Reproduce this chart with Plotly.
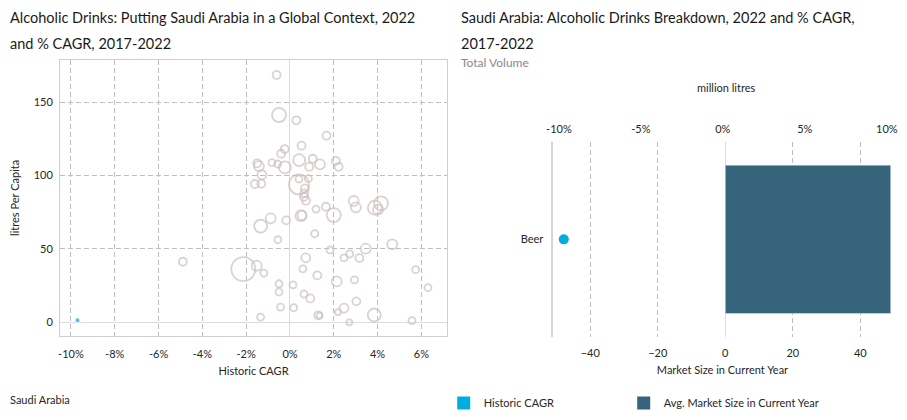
import plotly.graph_objects as go

# left chart: every country, historic CAGR (%) vs litres per capita, bubble = market size
cagr = [-0.61, -0.50, 0.29, 1.67, 0.53, -0.24, -0.40, 0.42, 1.04, 1.37,
        0.88, 2.10, 2.22, -0.23, -0.82, -0.56, -1.49, -1.42, -1.28, -1.60,
        -1.31, 0.41, 0.41, 0.84, 0.68, 0.65, 0.64, 0.73, 1.19, 1.64,
        2.00, 2.91, 3.01, 3.88, 4.16, 4.02, 0.50, 0.55, -0.88, -1.34,
        -0.17, -0.55, 1.13, 4.67, 3.46, 1.83, 3.17, 2.47, 2.73, 0.72,
        -2.13, -1.52, -1.19, 0.59, 1.25, 5.74, 6.30, 2.13, 2.95, -0.50,
        0.14, -0.50, 0.64, 0.93, 3.03, -0.43, 0.17, 2.47, 2.19, 1.29,
        1.35, 3.85, 2.71, 5.57, -1.34, -4.89]
per_capita = [168.6, 141.3, 137.7, 127.2, 120.4, 118.1, 114.9, 110.6, 111.5, 107.7,
              106.1, 110.0, 106.0, 105.6, 108.8, 107.9, 108.4, 106.5, 100.6, 94.3,
              94.5, 94.0, 97.7, 97.9, 91.3, 87.9, 85.6, 82.9, 77.2, 78.8,
              73.1, 82.7, 78.4, 78.1, 81.1, 76.8, 72.7, 72.9, 70.9, 65.6,
              69.5, 56.3, 60.4, 53.2, 50.2, 49.3, 43.8, 44.0, 46.6, 44.0,
              36.3, 38.6, 33.6, 36.5, 32.0, 35.9, 23.6, 27.9, 29.0, 26.3,
              25.6, 20.7, 19.3, 16.3, 14.3, 10.4, 10.0, 9.7, 7.0, 4.8,
              4.6, 5.0, 0.0, 1.1, 3.6, 41.3]
market_size = [1.0, 3.1, 1.0, 1.0, 1.0, 1.0, 1.0, 2.25, 1.0, 1.56,
               1.0, 1.0, 1.0, 2.25, 0.77, 0.77, 1.0, 1.56, 1.27, 1.0,
               1.0, 6.25, 0.77, 0.77, 1.0, 1.0, 1.0, 1.0, 0.77, 1.0,
               3.1, 1.56, 1.56, 3.1, 3.1, 1.56, 1.9, 1.27, 1.56, 2.64,
               1.0, 0.77, 0.77, 1.56, 1.56, 0.77, 1.0, 0.77, 0.77, 1.27,
               9.0, 1.56, 0.77, 0.77, 1.0, 0.77, 0.77, 1.56, 0.77, 0.77,
               0.77, 0.77, 0.77, 1.0, 1.0, 0.77, 0.77, 1.27, 0.56, 1.0,
               0.56, 2.64, 0.56, 0.77, 0.77, 1.0]

saudi_cagr = [-9.7]
saudi_per_capita = [1.4]
saudi_market_size = [0.4]

cagr_ticks = [-10, -8, -6, -4, -2, 0, 2, 4, 6]
cagr_tick_labels = ['-10%', '-8%', '-6%', '-4%', '-2%', '0%', '2%', '4%', '6%']
per_capita_ticks = [0, 50, 100, 150]

# right chart: category breakdown
categories = ['Beer']
category_cagr = [-9.7]
category_market = [49.0]
market_ticks = [-40, -20, 0, 20, 40]
pct_ticks = [-10, -5, 0, 5, 10]
pct_tick_labels = ['-10%', '-5%', '0%', '5%', '10%']

FONT = 'Lato'
TXT = '#262626'
GRID = '#bdbdbd'
RING = '#cbc1bd'
CYAN = '#00aede'
NAVY = '#36647b'
SIZEREF = 1 / 32

# page has an 8px body margin, so the figure is 907-16 x 420-16
W, H, PAD = 891, 404, 8


def fx(px):
    return (px - PAD) / W


def fy(py):
    return 1 - (py - PAD) / H


fig = go.Figure()

fig.add_trace(go.Scatter(
    x=cagr, y=per_capita, mode='markers', xaxis='x', yaxis='y',
    marker=dict(size=market_size, sizemode='area', sizeref=SIZEREF,
                color='rgba(255,255,255,0)', line=dict(color=RING, width=1.8)),
    showlegend=False, hoverinfo='skip'
))
fig.add_trace(go.Scatter(
    x=saudi_cagr, y=saudi_per_capita, mode='markers', xaxis='x', yaxis='y',
    marker=dict(size=saudi_market_size, sizemode='area', sizeref=SIZEREF, color=CYAN),
    showlegend=False
))

fig.add_trace(go.Bar(
    x=category_market, y=categories, orientation='h', xaxis='x3', yaxis='y3',
    marker=dict(color=NAVY), width=0.76, showlegend=False
))
fig.add_trace(go.Scatter(
    x=category_cagr, y=categories, mode='markers', xaxis='x4', yaxis='y3',
    marker=dict(size=10, color=CYAN), showlegend=False
))

# legend entries (square swatches), one legend each so they can sit apart
fig.add_trace(go.Scatter(x=[None], y=[None], mode='markers', xaxis='x3', yaxis='y3',
                         name='Historic CAGR', legend='legend',
                         marker=dict(symbol='square', size=13, color=CYAN)))
fig.add_trace(go.Scatter(x=[None], y=[None], mode='markers', xaxis='x3', yaxis='y3',
                         name='Avg. Market Size in Current Year', legend='legend2',
                         marker=dict(symbol='square', size=13, color=NAVY)))

axis_font = dict(family=FONT, size=11, color=TXT)
title_font = dict(family=FONT, size=14.5, color='#1a1a1a')
grid = dict(showgrid=True, gridcolor=GRID, griddash='5px,3px', gridwidth=1,
            zeroline=True, zerolinecolor='#dcdcdc', zerolinewidth=1, ticks='',
            automargin=False)
legend_style = dict(orientation='h', xanchor='left', yanchor='middle', itemwidth=30,
                    font=dict(family=FONT, size=11, color=TXT), bgcolor='rgba(0,0,0,0)')


def note(text, px, py, font, xanchor='left'):
    return dict(text=text, x=fx(px), y=fy(py), xref='paper', yref='paper',
                xanchor=xanchor, yanchor='middle', showarrow=False, font=font)


fig.update_layout(
    width=W, height=H,
    margin=dict(l=0, r=0, t=0, b=0, autoexpand=False),
    paper_bgcolor='white', plot_bgcolor='white',
    font=dict(family=FONT, size=11, color=TXT),
    xaxis=dict(domain=[fx(60), fx(447)], range=[-10.5, 7.17], anchor='y',
               tickvals=cagr_ticks, ticktext=cagr_tick_labels, tickfont=axis_font,
               showline=True, linecolor='#cfcfcf', mirror=True, ticklabelstandoff=8,
               title=dict(text='Historic CAGR', font=axis_font, standoff=8), **grid),
    yaxis=dict(domain=[fy(335.7), fy(60)], range=[-9.1, 178.8], anchor='x',
               tickvals=per_capita_ticks, tickfont=axis_font,
               showline=True, linecolor='#cfcfcf', mirror=True, ticklabelstandoff=4,
               title=dict(text='litres Per Capita', font=axis_font, standoff=12), **grid),
    xaxis3=dict(domain=[fx(553.3), fx(891.7)], range=[-50.96, 49.3], anchor='y3',
                tickvals=market_ticks, tickfont=axis_font, showline=False,
                ticklabelstandoff=8,
                title=dict(text='Market Size in Current Year', font=axis_font, standoff=8),
                **grid),
    # a little wider than the data so the 10% label stays inside the page
    xaxis4=dict(overlaying='x3', side='top', range=[-10.34, 10.3], anchor='y3',
                tickvals=pct_ticks, ticktext=pct_tick_labels, tickfont=axis_font,
                showgrid=False, zeroline=False, showline=False, ticks='',
                ticklabelstandoff=6, ticklabeloverflow='allow', automargin=False),
    yaxis3=dict(domain=[fy(337), fy(141.7)], anchor='x3', range=[-0.5, 0.5],
                type='category', tickfont=axis_font, automargin=False,
                showgrid=False, showline=True, linecolor='#d4d4d4', linewidth=1.5,
                ticks='', ticklabelstandoff=6),
    legend=dict(x=fx(443.7), y=fy(403), **legend_style),
    legend2=dict(x=fx(623.7), y=fy(403), **legend_style),
    annotations=[
        note('Alcoholic Drinks: Putting Saudi Arabia in a Global Context, 2022', 8, 17, title_font),
        note('and % CAGR, 2017-2022', 8, 44, title_font),
        note('Saudi Arabia: Alcoholic Drinks Breakdown, 2022 and % CAGR,', 459, 17, title_font),
        note('2017-2022', 459, 44, title_font),
        note('Total Volume', 459, 62, dict(family=FONT, size=12, color='#8a8a8a')),
        note('million litres', 726, 88, axis_font, xanchor='center'),
        note('Saudi Arabia', 8, 399, axis_font),
    ],
)

fig.write_html("out.html")
